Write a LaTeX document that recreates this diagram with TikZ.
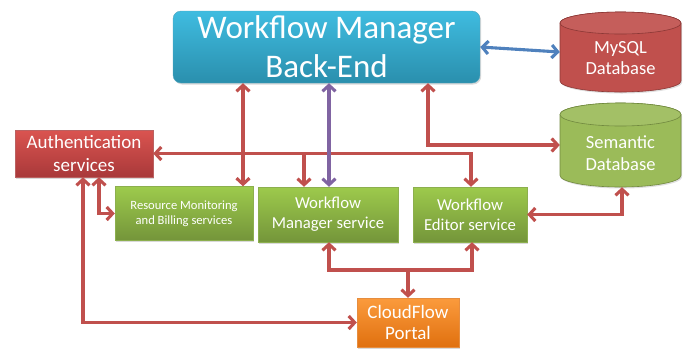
\documentclass[tikz,border=0pt]{standalone}
\usepackage{fontspec}
\setmainfont{Carlito}
\usetikzlibrary{arrows.meta,shadows,calc}

\definecolor{linkred}{HTML}{C0504D}
\definecolor{linkpurple}{HTML}{8064A2}
\definecolor{linkblue}{HTML}{4F81BD}
\definecolor{cyantop}{HTML}{3FBCE0}
\definecolor{cyanbot}{HTML}{2A8FAD}
\definecolor{redtop}{HTML}{DA5450}
\definecolor{redbot}{HTML}{A9393A}
\definecolor{greentop}{HTML}{9DCA4C}
\definecolor{greenbot}{HTML}{74953A}
\definecolor{greenedge}{HTML}{8CAF4E}
\definecolor{orangetop}{HTML}{FB9B3D}
\definecolor{orangebot}{HTML}{E0700F}
\definecolor{dbred}{HTML}{C0504D}
\definecolor{dbrededge}{HTML}{8C3836}
\definecolor{dbgreen}{HTML}{9BBB59}
\definecolor{dbgreenedge}{HTML}{71893F}

\tikzset{
  box/.style={inner sep=0pt, align=center, text=white,
    drop shadow={shadow xshift=1.2pt, shadow yshift=-1.5pt, opacity=.3}},
  cyanbox/.style={box, top color=cyantop, bottom color=cyanbot,
    draw=cyanbot!80!white, line width=.4pt, rounded corners=8pt},
  redbox/.style={box, top color=redtop, bottom color=redbot,
    draw=redbot!80!white, line width=.4pt},
  greenbox/.style={box, top color=greentop, bottom color=greenbot,
    draw=greenedge, line width=.4pt},
  orangebox/.style={box, top color=orangetop, bottom color=orangebot,
    draw=orangebot!80!white, line width=.4pt},
  anchorbox/.style={inner sep=0pt},
  dblabel/.style={inner sep=0pt, align=center, text=white,
    font=\fontsize{18.5}{21.7}\selectfont},
  link/.style={line width=3.1pt, color=linkred, line join=miter,
    arrows={Straight Barb[length=6pt,width=13pt]-Straight Barb[length=6pt,width=13pt]}},
  onlyend/.style={arrows={-Straight Barb[length=6pt,width=13pt]}},
}

\begin{document}
\begin{tikzpicture}[x=1pt,y=-1pt]
\useasboundingbox (0,0) rectangle (688,349);

% ---- boxes ----
\node[cyanbox, minimum width=307pt, minimum height=72pt,
      font=\fontsize{33}{39}\selectfont] (backend) at (326.5,47)
      {Workflow Manager\\Back-End};
\node[redbox, minimum width=138pt, minimum height=47pt,
      font=\fontsize{19}{22.4}\selectfont] (auth) at (84,153.5)
      {Authentication\\services};
\node[greenbox, minimum width=138pt, minimum height=54pt,
      font=\fontsize{12.6}{15}\selectfont] (resmon) at (184,213.5)
      {Resource Monitoring\\and Billing services};
\node[greenbox, minimum width=140pt, minimum height=55pt,
      font=\fontsize{16.7}{20}\selectfont] (wmsvc) at (328,214.5)
      {Workflow\\Manager service};
\node[greenbox, minimum width=114pt, minimum height=55pt,
      font=\fontsize{16.7}{20}\selectfont] (editor) at (470,214.5)
      {Workflow\\Editor service};
\node[orangebox, minimum width=102pt, minimum height=49pt,
      font=\fontsize{19}{21.7}\selectfont] (portal) at (408,322.5)
      {CloudFlow\\Portal};

% ---- databases (cylinders) ----
\node[anchorbox, minimum width=121pt, minimum height=80pt] (mysql) at (620.5,52) {};
\node[anchorbox, minimum width=121pt, minimum height=84pt] (semdb) at (620.5,145) {};

% MySQL cylinder
\path[fill=dbred, draw=dbrededge, line width=.6pt,
      drop shadow={shadow xshift=1.2pt, shadow yshift=-1.5pt, opacity=.25}]
  (560,23) -- (560,81)
  arc[start angle=180, end angle=360, x radius=60.5pt, y radius=11pt]
  -- (681,23)
  arc[start angle=0, end angle=180, x radius=60.5pt, y radius=11pt] -- cycle;
\draw[fill=dbred!92!white, draw=dbrededge, line width=.6pt]
  (620.5,23) ellipse[x radius=60.5pt, y radius=11pt];
\node[dblabel] (mysql-t) at (620.5,58) {MySQL\\Database};

% Semantic cylinder
\path[fill=dbgreen, draw=dbgreenedge, line width=.6pt,
      drop shadow={shadow xshift=1.2pt, shadow yshift=-1.5pt, opacity=.25}]
  (560,114.5) -- (560,175.5)
  arc[start angle=180, end angle=360, x radius=60.5pt, y radius=11.5pt]
  -- (681,114.5)
  arc[start angle=0, end angle=180, x radius=60.5pt, y radius=11.5pt] -- cycle;
\draw[fill=dbgreen!92!white, draw=dbgreenedge, line width=.6pt]
  (620.5,114.5) ellipse[x radius=60.5pt, y radius=11.5pt];
\node[dblabel] (semdb-t) at (620.5,153) {Semantic\\Database};

% ---- connectors ----
\coordinate (bus) at (408,270);

% Back-End <-> services and databases
\draw[link] (243,0 |- backend.south) -- (243,0 |- resmon.north);
\draw[link] (428,0 |- backend.south) |- (semdb.west);
\draw[link, color=linkblue] (backend.east) -- (mysql.west);

% Authentication bus
\draw[link] (auth.east) -| (471,0 |- editor.north);
\draw[link, onlyend] (304,0 |- auth.east) -- (304,0 |- wmsvc.north);
\draw[link] (99,0 |- auth.south) |- (resmon.west);
\draw[link] (83,0 |- auth.south) |- (portal.west);

% Back-End <-> Workflow Manager service (drawn over the bus)
\draw[link, color=linkpurple] (329,0 |- backend.south) -- (329,0 |- wmsvc.north);

% Portal bus
\draw[link] (329,0 |- wmsvc.south) |- (bus) -| (472,0 |- editor.south);
\draw[link, onlyend] (bus) -- (portal.north);

% Editor <-> Semantic Database
\draw[link] (editor.east) -| (622,0 |- semdb.south);
\end{tikzpicture}
\end{document}
